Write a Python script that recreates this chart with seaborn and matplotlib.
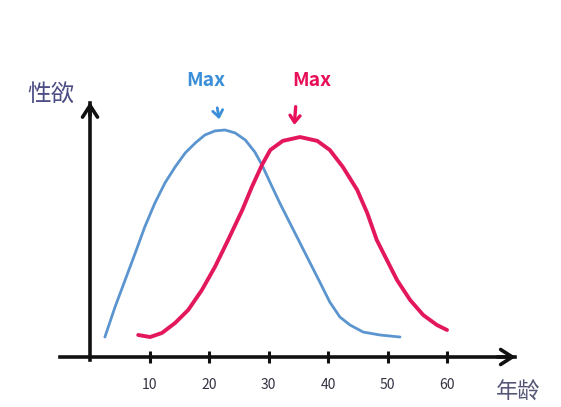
import matplotlib
matplotlib.use("Agg")
import matplotlib.pyplot as plt
import seaborn as sns
import pandas as pd

# ---- data (arbitrary units, blue peak = 100) ----
blue_age = [2.5, 4.2, 5.9, 7.6, 9.2, 10.9, 12.6, 14.3, 16.0, 17.7, 19.3, 21.0, 22.7, 24.4,
            26.1, 27.7, 28.9, 30.3, 31.9, 33.6, 35.3, 37.0, 38.7, 40.3, 42.0, 43.7, 45.9,
            48.7, 52.1]
blue_val = [8.8, 22.0, 33.9, 45.8, 57.3, 67.8, 76.7, 83.7, 89.9, 94.3, 97.8, 99.6, 100.0, 98.7,
            95.6, 90.3, 84.6, 76.7, 67.8, 59.0, 50.2, 41.4, 32.6, 24.2, 17.6, 14.1, 11.0,
            9.7, 8.8]
red_age = [8.1, 10.1, 12.1, 14.3, 16.5, 18.8, 21.0, 23.2, 25.6, 27.2, 28.9, 30.3, 32.4, 35.3,
           38.2, 40.3, 42.5, 44.9, 46.6, 48.2, 49.9, 51.6, 53.8, 56.0, 58.3, 60.0]
red_val = [9.7, 8.8, 10.6, 15.0, 20.7, 29.5, 39.7, 51.5, 64.8, 74.9, 84.6, 91.2, 95.2, 96.9,
           95.2, 91.2, 83.7, 73.6, 63.4, 51.5, 42.7, 33.9, 25.1, 18.5, 14.1, 11.9]
x_ticks = [10, 20, 30, 40, 50, 60]
x_tick_labels = ["10", "20", "30", "40", "50", "60"]
series_names = ["blue", "red"]
y_label = "性欲"
x_label = "年龄"
peak_label = "Max"

df = pd.concat([
    pd.DataFrame({"age": blue_age, "val": blue_val, "s": series_names[0]}),
    pd.DataFrame({"age": red_age, "val": red_val, "s": series_names[1]}),
])

sns.set_theme(style="white")
plt.rcParams["font.family"] = ["Noto Sans CJK SC", "DejaVu Sans"]

fig = plt.figure(figsize=(5.61, 4.07), dpi=100)
ax = fig.add_axes([0, 0, 1, 1])

sns.lineplot(data=df, x="age", y="val", hue="s", sort=False,
             palette={"blue": "#5b95cf", "red": "#e3175c"}, legend=False, ax=ax)
for line, lw in zip(ax.lines, [2.0, 2.8]):
    line.set_linewidth(lw)
    line.set_solid_capstyle("round")
    line.set_solid_joinstyle("round")

ax.set_xlim(-15.13, 79.16)
ax.set_ylim(-22.03, 157.27)

axis_col = "#111111"
for side in ["top", "right"]:
    ax.spines[side].set_visible(False)
ax.spines["bottom"].set_position(("data", 0))
ax.spines["left"].set_position(("data", 0))
ax.spines["bottom"].set_bounds(-5, 71.5)
ax.spines["left"].set_bounds(-1.5, 112)
for side in ["bottom", "left"]:
    ax.spines[side].set_color(axis_col)
    ax.spines[side].set_linewidth(2.6)
    ax.spines[side].set_visible(True)

# arrow heads
ax.annotate("", xy=(72.0, 0), xytext=(68.0, 0),
            arrowprops=dict(arrowstyle="->,head_length=0.7,head_width=0.45", lw=2.6, color=axis_col))
ax.annotate("", xy=(0, 113.5), xytext=(0, 105),
            arrowprops=dict(arrowstyle="->,head_length=0.7,head_width=0.45", lw=2.6, color=axis_col))

ax.set_xticks(x_ticks)
ax.set_xticklabels(x_tick_labels, fontsize=10, color="#333344")
ax.set_yticks([])
ax.tick_params(axis="x", bottom=True, direction="inout", length=8, width=2.2,
               color=axis_col, pad=11)
ax.set_xlabel("")
ax.set_ylabel("")
ax.grid(False)

# axis titles
ax.text(-6.5, 115.5, y_label, fontsize=17, color="#4d4d86", ha="center", va="center")
ax.text(68.3, -15.5, x_label, fontsize=16, color="#555577", ha="left", va="center")

# Max annotations
ax.text(19.4, 122, peak_label, fontsize=14, color="#3b8fd8", ha="center", va="center",
        fontweight="bold", style="italic")
ax.text(37.2, 122, peak_label, fontsize=14, color="#e8105a", ha="center", va="center",
        fontweight="bold", style="italic")
ax.annotate("", xy=(21.8, 103.5), xytext=(21.3, 111),
            arrowprops=dict(arrowstyle="->,head_length=0.4,head_width=0.3", lw=2, color="#3b8fd8"))
ax.annotate("", xy=(34.3, 101), xytext=(34.6, 111.5),
            arrowprops=dict(arrowstyle="->,head_length=0.4,head_width=0.3", lw=2.4, color="#e8105a"))

fig.savefig("out.png", dpi=100, facecolor="white")
